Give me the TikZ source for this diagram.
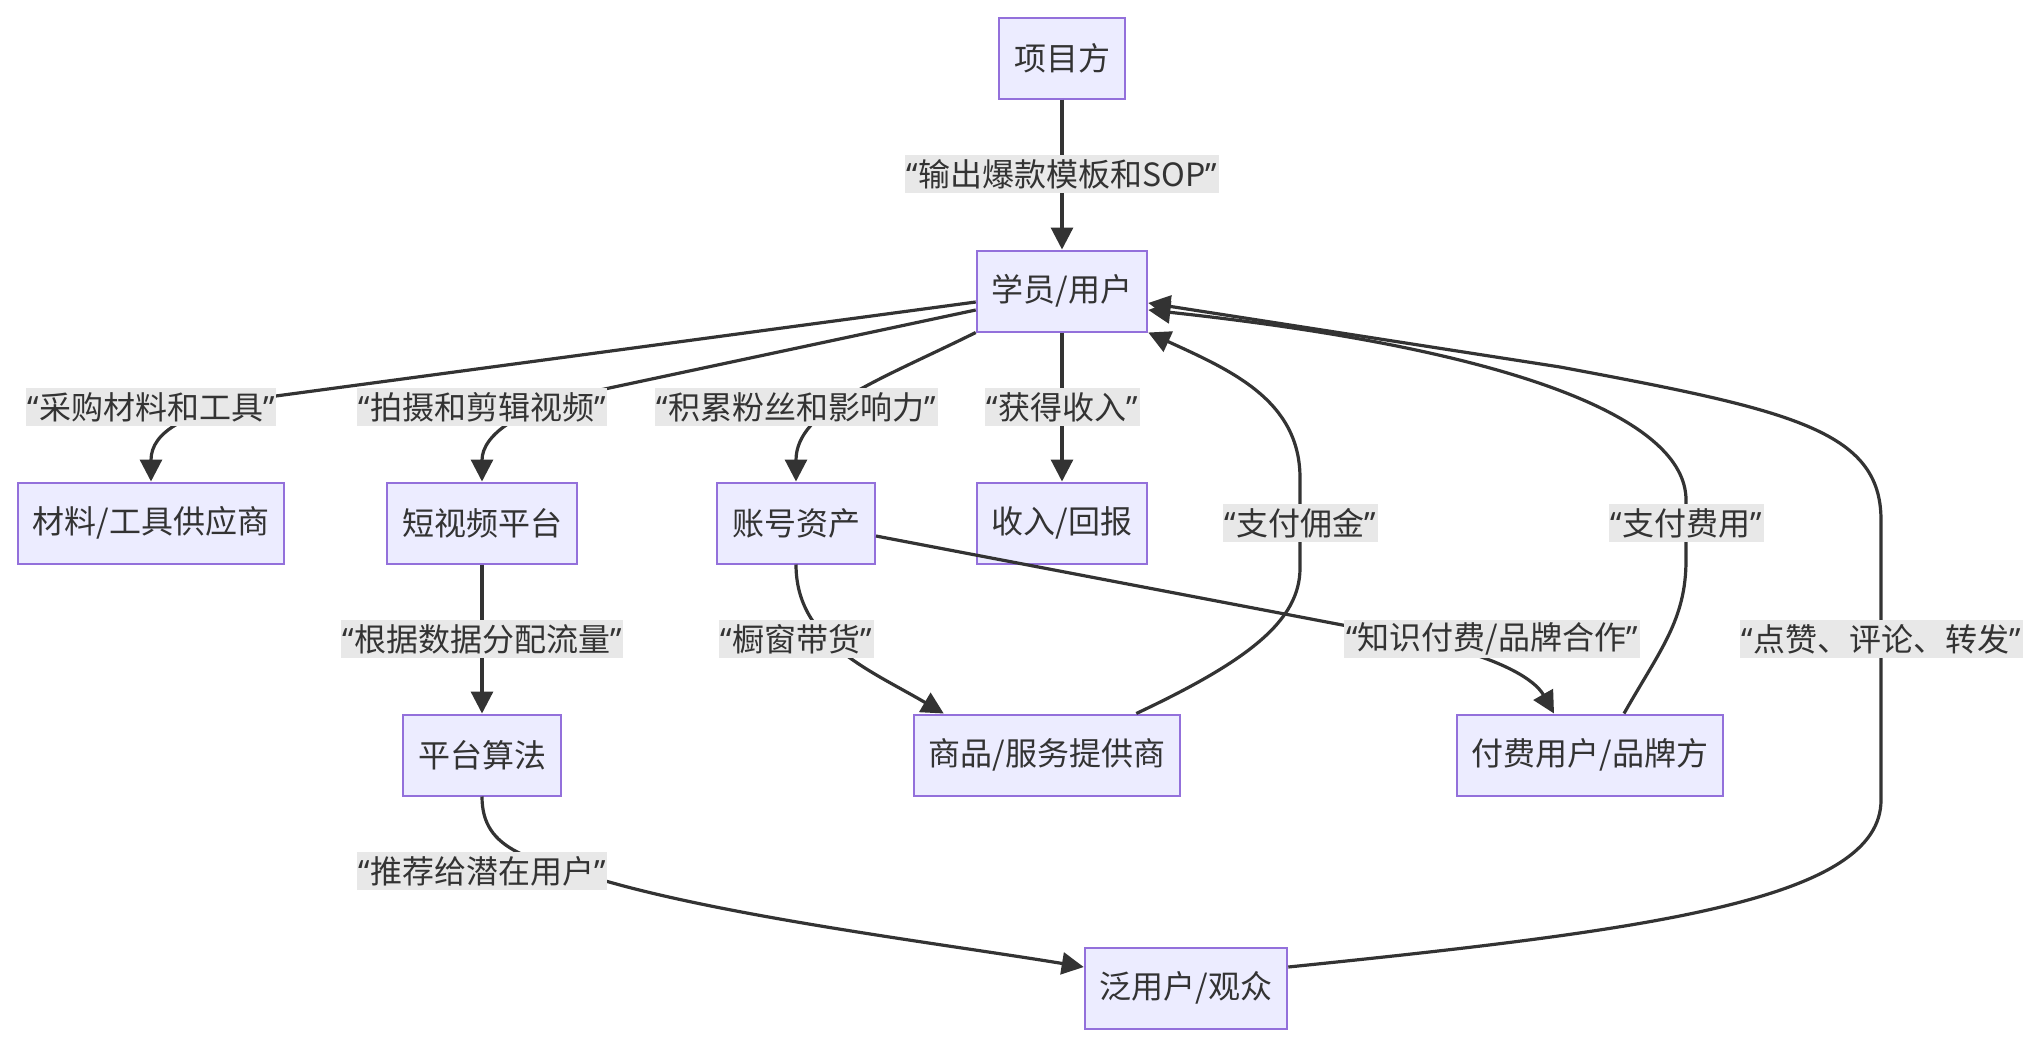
\documentclass[tikz,border=0pt]{standalone}
\usepackage{fontspec}
\setmainfont{Noto Sans CJK SC}
\newfontfamily\qfont{Noto Sans}
\usetikzlibrary{arrows.meta,calc}
\definecolor{boxfill}{HTML}{ECECFF}
\definecolor{boxline}{HTML}{9370DB}
\definecolor{ink}{HTML}{333333}
\definecolor{lblfill}{HTML}{E8E8E8}
\newcommand{\quo}[1]{{\qfont “}#1{\qfont ”}}

\begin{document}
\begin{tikzpicture}[x=0.5pt, y=-0.5pt,
    box/.style={draw=boxline, fill=boxfill, line width=1pt, text=ink,
      font=\fontsize{16}{19}\selectfont, minimum height=40.5pt, inner xsep=7.5pt},
    lbl/.style={fill=lblfill, text=ink, font=\fontsize{16}{19}\selectfont,
      inner xsep=1pt, inner ysep=0pt, minimum height=19pt},
    flow/.style={draw=ink, line width=1.6pt, -{Triangle[length=11pt,width=11pt]}}]
    \useasboundingbox (0,0) rectangle (2044,1044);

    \node[box] (pm)  at (1062,58)  {项目方};
    \node[box] (xy)  at (1062,291) {学员/用户};
    \node[box] (cl)  at (151,523)  {材料/工具供应商};
    \node[box] (dsp) at (482,523)  {短视频平台};
    \node[box] (zh)  at (796,523)  {账号资产};
    \node[box] (sr)  at (1062,523) {收入/回报};
    \node[box] (sf)  at (482,755)  {平台算法};
    \node[box] (sp)  at (1047,755) {商品/服务提供商};
    \node[box] (ff)  at (1590,755) {付费用户/品牌方};
    \node[box] (fy)  at (1186,988) {泛用户/观众};

    \coordinate (l1)  at (1062,174);
    \coordinate (l2)  at (151,407);
    \coordinate (l3)  at (482,407);
    \coordinate (l4)  at (796,407);
    \coordinate (l5)  at (1062,407);
    \coordinate (l6)  at (1300,523);
    \coordinate (l7)  at (1686,523);
    \coordinate (l8)  at (1881,639);
    \coordinate (l9)  at (1492,639);
    \coordinate (l10) at (796,639);
    \coordinate (l11) at (482,639);
    \coordinate (l12) at (482,871);

    \draw[flow] (pm.south) -- (xy.north);
    \draw[flow] ($(xy.west)+(0,11)$) -- ($(l2)+(110,-9)$)
        .. controls ($(l2)+(35,5)$) and ($(cl.north)+(0,-50)$) .. (cl.north);
    \draw[flow] ($(xy.west)+(0,19)$) -- ($(l3)+(118,-17)$)
        .. controls ($(l3)+(38,0)$) and ($(dsp.north)+(0,-47)$) .. (dsp.north);
    \draw[flow] (xy.south west) .. controls (880,380) and ($(zh.north)+(0,-72)$) .. (zh.north);
    \draw[flow] (xy.south) -- (sr.north);
    \draw[flow] ($(sp.north east)+(-45,0)$) .. controls (1250,660) and (1300,620) .. (1300,568)
        -- (l6) -- (1300,478) .. controls (1300,400) and (1230,370) .. (xy.south east);
    \draw[flow] ($(ff.north)+(34,0)$) .. controls (1660,650) and (1686,620) .. (1686,560)
        -- (l7) -- (1686,500) .. controls (1686,420) and (1520,350) .. ($(xy.east)+(0,19)$);
    \draw[flow] ($(fy.east)+(0,-21)$) .. controls (1650,930) and (1881,900) .. (1881,800)
        -- (l8) -- (1881,520) .. controls (1881,430) and (1790,410) .. (1560,367)
        -- ($(xy.east)+(0,12)$);
    \draw[flow] ($(zh.east)+(0,13)$) -- (1400,636)
        .. controls (1500,655) and (1535,680) .. ($(ff.north)+(-36,0)$);
    \draw[flow] (zh.south) .. controls ($(zh.south)+(0,77)$) and (870,670) .. ($(sp.north west)+(31,0)$);
    \draw[flow] (dsp.south) -- (sf.north);
    \draw[flow] (sf.south) .. controls ($(sf.south)+(0,55)$) and (530,860) .. (620,885)
        .. controls (750,920) and (950,945) .. ($(fy.west)+(0,-21)$);

    \foreach \n/\t in {1/输出爆款模板和SOP, 2/采购材料和工具, 3/拍摄和剪辑视频,
        4/积累粉丝和影响力, 5/获得收入, 6/支付佣金, 7/支付费用, 8/点赞、评论、转发,
        9/知识付费\slash 品牌合作, 10/橱窗带货, 11/根据数据分配流量, 12/推荐给潜在用户}
      \node[lbl] (t\n) at (l\n) {\quo{\t}};
\end{tikzpicture}
\end{document}
